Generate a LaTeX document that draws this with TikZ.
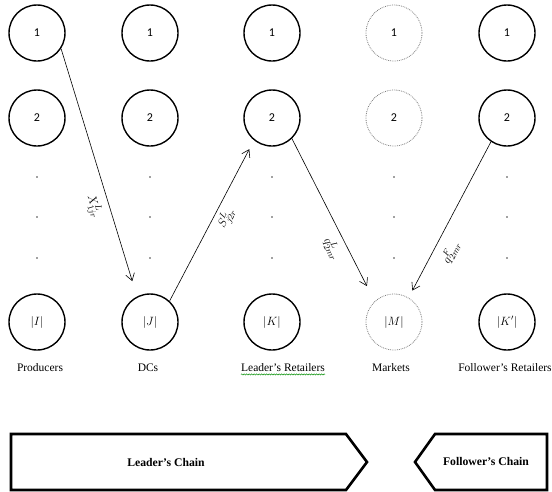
\documentclass[tikz,border=0pt]{standalone}
\usepackage{fontspec}
\setmainfont{Liberation Serif}
\newfontfamily\numfont{Carlito}
\usetikzlibrary{arrows.meta,decorations.pathmorphing}
\begin{document}
\begin{tikzpicture}[x=1pt,y=-1pt,
  solidc/.style={circle, draw, line width=1.4pt, minimum size=56pt, inner sep=0pt, font=\numfont\fontsize{12}{14}\selectfont},
  dotc/.style={circle, draw=gray, densely dotted, line width=0.8pt, minimum size=56pt, inner sep=0pt, font=\numfont\fontsize{12}{14}\selectfont},
  vdot/.style={circle, fill=black!75, inner sep=0pt, minimum size=1.8pt},
  collabel/.style={font=\fontsize{11.5}{13}\selectfont, inner sep=1pt},
  flow/.style={-{Straight Barb[length=7pt,width=9pt]}, line width=0.6pt},
  flowlabel/.style={sloped, font=\fontsize{13}{15}\selectfont, inner sep=1pt},
  chain/.style={draw, line width=2.6pt, line join=miter},
  chainlabel/.style={font=\bfseries\fontsize{11.7}{14}\selectfont}
]
\useasboundingbox (0,0) rectangle (552,491);

% Producers
\node[solidc] (p1) at (37,33) {1};
\node[solidc] (p2) at (37,118) {2};
\node[vdot] (pd1) at (37,177) {};
\node[vdot] (pd2) at (37,217) {};
\node[vdot] (pd3) at (37,258) {};
\node[solidc] (pI) at (37,322) {$|I|$};
\node[collabel] (lp) at (40,368) {Producers};

% DCs
\node[solidc] (d1) at (150,33) {1};
\node[solidc] (d2) at (150,118) {2};
\node[vdot] (dd1) at (150,177) {};
\node[vdot] (dd2) at (150,217) {};
\node[vdot] (dd3) at (150,258) {};
\node[solidc] (dJ) at (150,322) {$|J|$};
\node[collabel] (ld) at (148,368) {DCs};

% Leader's retailers
\node[solidc] (r1) at (272,33) {1};
\node[solidc] (r2) at (272,118) {2};
\node[vdot] (rd1) at (272,177) {};
\node[vdot] (rd2) at (272,217) {};
\node[vdot] (rd3) at (272,258) {};
\node[solidc] (rK) at (272,322) {$|K|$};
\node[collabel] (lr) at (283,368) {Leader's Retailers};
\draw[green!55!black, line width=0.5pt, decorate,
      decoration={snake, amplitude=0.6pt, segment length=2.5pt}]
  ([xshift=1pt,yshift=-2.5pt]lr.base west) -- ([xshift=-1pt,yshift=-2.5pt]lr.base east);

% Markets
\node[dotc] (m1) at (394,33) {1};
\node[dotc] (m2) at (394,118) {2};
\node[vdot] (md1) at (394,177) {};
\node[vdot] (md2) at (394,217) {};
\node[vdot] (md3) at (394,258) {};
\node[dotc] (mM) at (394,322) {$|M|$};
\node[collabel] (lm) at (391,368) {Markets};

% Follower's retailers
\node[solidc] (f1) at (507,33) {1};
\node[solidc] (f2) at (507,118) {2};
\node[vdot] (fd1) at (507,177) {};
\node[vdot] (fd2) at (507,217) {};
\node[vdot] (fd3) at (507,258) {};
\node[solidc] (fK) at (507,322) {$|K'|$};
\node[collabel] (lf) at (505,368) {Follower's Retailers};

% Flows
\draw[flow, shorten >=16pt] (p1.-33) -- node[flowlabel, below=6pt, pos=0.62] {$X^{L}_{1jr}$} (dJ.117);
\draw[flow, shorten >=10pt] (dJ.47) -- node[flowlabel, below=3pt, pos=0.55] {$S^{L}_{j2r}$} (r2.231);
\draw[flow, shorten >=17pt] (r2.-46) -- node[flowlabel, below=6pt, pos=0.64] {$q^{L}_{2mr}$} (mM.133);
\draw[flow, shorten >=8pt] (f2.236) -- node[flowlabel, below=8pt, pos=0.66] {$q^{F}_{2mr}$} (mM.59);

% Chains
\draw[chain] (11,434) -- (346,434) -- (367,462) -- (346,490) -- (11,490) -- cycle;
\node[chainlabel] (lc) at (166,462) {Leader's Chain};
\draw[chain] (415,462) -- (435,434) -- (547,434) -- (547,490) -- (435,490) -- cycle;
\node[chainlabel] (fc) at (486,461) {Follower's Chain};
\end{tikzpicture}
\end{document}
